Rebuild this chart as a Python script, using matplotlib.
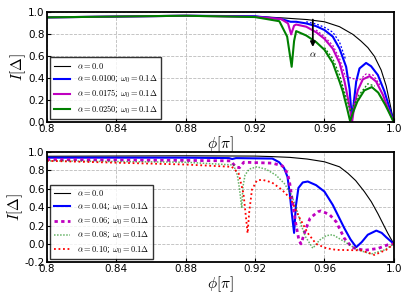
import numpy as np
import matplotlib
matplotlib.use('Agg')
import matplotlib.pyplot as plt

plt.rcParams['mathtext.fontset'] = 'cm'

# ---------- painel superior ----------
phi_a0 = [0.80, 0.88, 0.92, 0.9378, 0.95, 0.96, 0.9687, 0.9764, 0.981, 0.985, 0.9888, 0.9927, 0.9956, 0.9975, 1.0]
I_a0 = [0.955, 0.97, 0.965, 0.948, 0.935, 0.915, 0.87, 0.80, 0.74, 0.68, 0.60, 0.475, 0.33, 0.19, 0.0]

phi_b = [0.80, 0.88, 0.92, 0.935, 0.9405, 0.9437, 0.9495, 0.9552, 0.96, 0.9648, 0.9687, 0.9725, 0.9745, 0.9758,
         0.977, 0.9783, 0.9802, 0.984, 0.9869, 0.9908, 0.9946, 0.9975, 1.0]
I_b = [0.955, 0.97, 0.965, 0.94, 0.915, 0.915, 0.90, 0.875, 0.84, 0.78, 0.67, 0.505, 0.30, 0.03,
       0.19, 0.37, 0.49, 0.54, 0.51, 0.43, 0.28, 0.13, 0.0]

phi_m = [0.80, 0.88, 0.92, 0.935, 0.939, 0.9408, 0.9425, 0.9437, 0.9495, 0.9552, 0.96, 0.9648, 0.9687, 0.9716,
         0.9740, 0.9760, 0.9773, 0.9792, 0.9821, 0.986, 0.9898, 0.9937, 0.997, 1.0]
I_m = [0.955, 0.97, 0.96, 0.94, 0.90, 0.80, 0.88, 0.89, 0.87, 0.82, 0.76, 0.67, 0.54, 0.37,
       0.18, 0.01, 0.16, 0.29, 0.39, 0.42, 0.37, 0.25, 0.11, 0.0]

phi_g = [0.80, 0.88, 0.92, 0.934, 0.9385, 0.9411, 0.9425, 0.9437, 0.9495, 0.9552, 0.96, 0.9648, 0.9687, 0.9706,
         0.9730, 0.9748, 0.9765, 0.9790, 0.983, 0.9873, 0.991, 0.9950, 1.0]
I_g = [0.955, 0.97, 0.958, 0.92, 0.78, 0.505, 0.74, 0.83, 0.79, 0.73, 0.66, 0.54, 0.37, 0.28,
       0.13, 0.01, 0.09, 0.19, 0.29, 0.32, 0.27, 0.16, 0.0]

# curvas tracejadas (aproximação)
phi_bd = [0.9495, 0.9552, 0.96, 0.9648, 0.9687, 0.972]
I_bd = [0.915, 0.895, 0.865, 0.82, 0.73, 0.58]
phi_md = [0.9552, 0.96, 0.9648, 0.9687, 0.972, 0.980, 0.984, 0.988, 0.992]
I_md = [0.84, 0.78, 0.70, 0.58, 0.42, 0.38, 0.44, 0.43, 0.34]
phi_gd = [0.96, 0.9648, 0.9687, 0.972, 0.975, 0.980, 0.985, 0.989]
I_gd = [0.68, 0.58, 0.43, 0.25, 0.10, 0.25, 0.35, 0.33]

labels_top = [r'$\alpha=0.0$',
              r'$\alpha=0.0100$; $\omega_0=0.1\Delta$',
              r'$\alpha=0.0175$; $\omega_0=0.1\Delta$',
              r'$\alpha=0.0250$; $\omega_0=0.1\Delta$']

# ---------- painel inferior ----------
phi2_a0 = [0.80, 0.88, 0.92, 0.929, 0.94, 0.95, 0.96, 0.9687, 0.9735, 0.978, 0.983, 0.987, 0.9908, 0.994, 0.9965, 1.0]
I2_a0 = [0.955, 0.96, 0.957, 0.952, 0.943, 0.925, 0.895, 0.84, 0.77, 0.69, 0.57, 0.46, 0.33, 0.21, 0.117, 0.0]

phi2_b = [0.80, 0.88, 0.905, 0.9068, 0.909, 0.930, 0.9339, 0.9368, 0.9387, 0.940, 0.9412, 0.9425, 0.9435, 0.945,
          0.9475, 0.9504, 0.9552, 0.96, 0.9648, 0.9715, 0.9750, 0.9783, 0.9815, 0.985, 0.9899, 0.9930, 0.9956, 1.0]
I2_b = [0.94, 0.94, 0.935, 0.925, 0.935, 0.93, 0.89, 0.825, 0.73, 0.55, 0.33, 0.12, 0.41, 0.61,
        0.67, 0.68, 0.64, 0.57, 0.425, 0.17, 0.05, -0.036, 0.02, 0.10, 0.145, 0.12, 0.073, 0.0]

phi2_m = [0.80, 0.88, 0.906, 0.9088, 0.9110, 0.9135, 0.93, 0.9358, 0.9387, 0.940, 0.9411, 0.9434, 0.9453, 0.9465,
          0.949, 0.9517, 0.9562, 0.958, 0.9629, 0.9668, 0.9715, 0.976, 0.983, 0.9908, 0.9965, 1.0]
I2_m = [0.92, 0.91, 0.905, 0.84, 0.83, 0.89, 0.88, 0.85, 0.77, 0.66, 0.52, 0.23, 0.04, 0.0,
        0.15, 0.28, 0.35, 0.36, 0.32, 0.24, 0.06, -0.04, -0.07, -0.05, -0.01, 0.0]

phi2_g = [0.80, 0.88, 0.9076, 0.9098, 0.9111, 0.9123, 0.913, 0.9142, 0.9166, 0.921, 0.9262, 0.932, 0.9368, 0.9406,
          0.9435, 0.9465, 0.949, 0.9533, 0.9571, 0.961, 0.9648, 0.9715, 0.9793, 0.987, 0.9947, 1.0]
I2_g = [0.905, 0.89, 0.86, 0.75, 0.59, 0.39, 0.62, 0.75, 0.815, 0.84, 0.815, 0.75, 0.66, 0.55,
        0.41, 0.21, 0.08, -0.047, 0.04, 0.09, 0.10, 0.025, -0.065, -0.11, -0.065, 0.0]

phi2_r = [0.80, 0.88, 0.9066, 0.9105, 0.9133, 0.9147, 0.9157, 0.9166, 0.9182, 0.921, 0.924, 0.9297, 0.9355, 0.9406,
          0.9452, 0.9504, 0.9552, 0.961, 0.9668, 0.9750, 0.9811, 0.9888, 0.9956, 1.0]
I2_r = [0.905, 0.865, 0.84, 0.77, 0.55, 0.30, 0.117, 0.34, 0.59, 0.69, 0.70, 0.67, 0.59, 0.49,
        0.30, 0.117, 0.0, -0.047, -0.065, -0.068, -0.07, -0.12, -0.065, 0.0]

labels_bot = [r'$\alpha=0.0$',
              r'$\alpha=0.04$; $\omega_0=0.1\Delta$',
              r'$\alpha=0.06$; $\omega_0=0.1\Delta$',
              r'$\alpha=0.08$; $\omega_0=0.1\Delta$',
              r'$\alpha=0.10$; $\omega_0=0.1\Delta$']

xticks = [0.8, 0.84, 0.88, 0.92, 0.96, 1.0]

fig = plt.figure(figsize=(4.15, 2.96), dpi=100)
ax1 = fig.add_axes([0.113, 0.587, 0.836, 0.371])
ax2 = fig.add_axes([0.113, 0.114, 0.836, 0.372])


def estilo(ax, ymin, yticks):
    ax.set_xlim(0.8, 1.0)
    ax.set_ylim(ymin, 1.0)
    ax.set_xticks(xticks)
    ax.set_xticklabels(['0.8', '0.84', '0.88', '0.92', '0.96', '1.0'])
    ax.set_yticks(yticks)
    ax.set_yticklabels(['%.1f' % t for t in yticks])
    ax.grid(True, ls='--', color='#bbbbbb', lw=0.6)
    ax.tick_params(direction='in', labelsize=7.5, pad=1.5, length=3)
    for s in ax.spines.values():
        s.set_linewidth(1.3)
    ax.set_ylabel(r'$I[\Delta]$', fontsize=11, labelpad=0)
    ax.set_xlabel(r'$\phi[\pi]$', fontsize=11, labelpad=0)


def legenda(ax):
    ax.legend(loc='lower left', fontsize=6, fancybox=False, edgecolor='k',
              handlelength=2.0, handletextpad=0.8, borderaxespad=0.35,
              labelspacing=0.35, borderpad=0.45)


# Painel superior
ax1.plot(phi_a0, I_a0, 'k-', lw=0.8, label=labels_top[0])
ax1.plot(phi_b, I_b, 'b-', lw=1.5, label=labels_top[1])
ax1.plot(phi_m, I_m, 'm-', lw=1.5, label=labels_top[2])
ax1.plot(phi_g, I_g, 'g-', lw=1.5, label=labels_top[3])
ax1.plot(phi_bd, I_bd, 'b--', lw=0.9, dashes=(1.5, 1.5))
ax1.plot(phi_md, I_md, 'm--', lw=0.9, dashes=(1.5, 1.5))
ax1.plot(phi_gd, I_gd, 'g--', lw=0.9, dashes=(1.5, 1.5))
ax1.annotate('', xy=(0.9533, 0.66), xytext=(0.9533, 0.96),
             arrowprops=dict(arrowstyle='-|>', color='k', lw=1.3, mutation_scale=7))
ax1.text(0.9533, 0.62, r'$\alpha$', fontsize=7, ha='center', va='center')
estilo(ax1, 0.0, [0.0, 0.2, 0.4, 0.6, 0.8, 1.0])
legenda(ax1)

# Painel inferior
ax2.plot(phi2_a0, I2_a0, 'k-', lw=0.8, label=labels_bot[0])
ax2.plot(phi2_b, I2_b, 'b-', lw=1.5, label=labels_bot[1])
ax2.plot(phi2_m, I2_m, color='m', ls=(0, (1.2, 1.2)), lw=2.0, label=labels_bot[2])
ax2.plot(phi2_g, I2_g, color='g', ls=(0, (1, 1)), lw=1.1, alpha=0.6, label=labels_bot[3])
ax2.plot(phi2_r, I2_r, color='r', ls=(0, (1, 1.5)), lw=1.3, label=labels_bot[4])
estilo(ax2, -0.2, [-0.2, 0.0, 0.2, 0.4, 0.6, 0.8, 1.0])
legenda(ax2)

fig.savefig('out.png', dpi=100)
